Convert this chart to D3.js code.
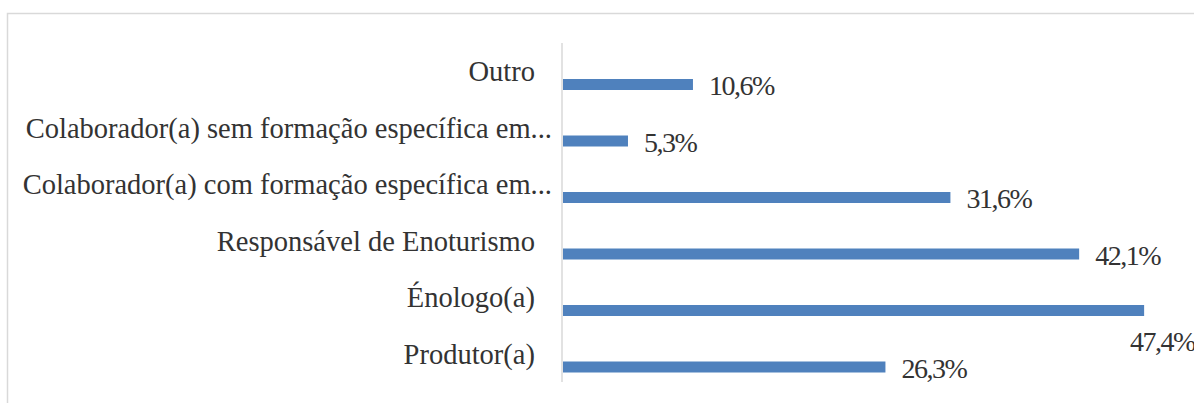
<!DOCTYPE html>
<html>
<head>
<meta charset="utf-8">
<script src="https://cdn.jsdelivr.net/npm/d3@7"></script>
<style>
  html, body { margin: 0; padding: 0; background: #fff; overflow: hidden; }
  svg { display: block; }
  .cat-label { font-family: "Liberation Serif", "DejaVu Serif", serif; font-size: 28.5px; fill: #333; }
  .val-label { font-family: "Liberation Serif", "DejaVu Serif", serif; font-size: 28px; fill: #333; letter-spacing: -1.5px; }
</style>
</head>
<body>
<svg id="chart"></svg>
<script>
// Horizontal bar chart: who receives wine tourists (share of respondents).

const categories = [
  'Outro',
  'Colaborador(a) sem formação específica em...',
  'Colaborador(a) com formação específica em...',
  'Responsável de Enoturismo',
  'Énologo(a)',
  'Produtor(a)'
];
const values = [10.6, 5.3, 31.6, 42.1, 47.4, 26.3];
const xDomain = [0, 50];

const W = 1194, H = 403;
const PLOT = { left: 563, right: 1176, top: 43, bottom: 382 };
const BAR_OFFSET = 36, BAR_H = 11;

const svg = d3.select('#chart').attr('width', W).attr('height', H);

// Chart frame (only top/left edges fall inside the picture)
svg.append('rect')
  .attr('x', 7.5).attr('y', 13.5)
  .attr('width', W).attr('height', H)
  .attr('fill', 'none')
  .attr('stroke', '#d9d9d9')
  .attr('stroke-width', 1.5);

const x = d3.scaleLinear().domain(xDomain).range([PLOT.left, PLOT.right]);
const y = d3.scaleBand().domain(categories).range([PLOT.top, PLOT.bottom]).padding(0);

const fmt = v => v.toFixed(1).replace('.', ',') + '%';

// Category axis line
svg.append('line')
  .attr('x1', PLOT.left - 1).attr('x2', PLOT.left - 1)
  .attr('y1', PLOT.top).attr('y2', PLOT.bottom)
  .attr('stroke', '#d9d9d9')
  .attr('stroke-width', 1.5);

// Category labels
svg.append('g')
  .selectAll('text')
  .data(categories)
  .join('text')
  .attr('class', 'cat-label')
  .attr('x', d => d.endsWith('...') ? 552 : 535)
  .attr('y', d => y(d) + y.bandwidth() / 2 + 9.75)
  .attr('text-anchor', 'end')
  .text(d => d);

const rows = categories.map((c, i) => ({ cat: c, val: values[i] }));

// Bars
svg.append('g')
  .selectAll('rect')
  .data(rows)
  .join('rect')
  .attr('x', x(0))
  .attr('y', d => y(d.cat) + BAR_OFFSET)
  .attr('width', d => x(d.val) - x(0))
  .attr('height', BAR_H)
  .attr('fill', '#4f81bd');

// Value labels; ones that would run off the right edge drop below the bar
svg.append('g')
  .selectAll('text')
  .data(rows)
  .join('text')
  .attr('class', 'val-label')
  .text(d => fmt(d.val))
  .each(function (d) {
    const t = d3.select(this);
    const w = this.getComputedTextLength();
    const barTop = y(d.cat) + BAR_OFFSET;
    if (x(d.val) + 16 + w > W - 20) {
      t.attr('x', x(d.val) - 14).attr('y', barTop + 46);
    } else {
      t.attr('x', x(d.val) + 16).attr('y', barTop + 16);
    }
  });
</script>
</body>
</html>
